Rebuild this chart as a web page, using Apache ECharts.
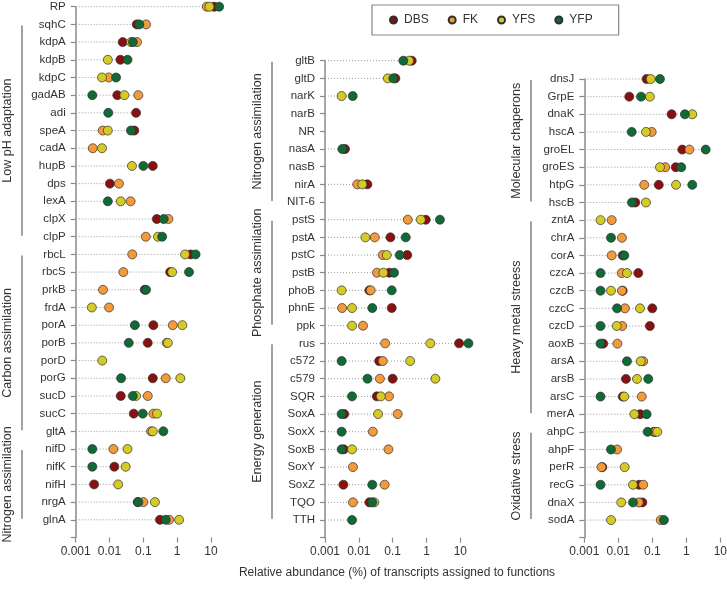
<!DOCTYPE html>
<html>
<head>
<meta charset="utf-8">
<script src="https://cdn.jsdelivr.net/npm/echarts@6/dist/echarts.min.js"></script>
<style>
html,body{margin:0;padding:0;background:#fff;}
#chart{width:727px;height:590px;}
</style>
</head>
<body>
<div id="chart"></div>
<script>
// ---------- DATA ----------
const tickLabels = ['0.001', '0.01', '0.1', '1', '10'];
const sampleNames = ['DBS', 'FK', 'YFS', 'YFP'];

const catsLeft = ['RP','sqhC','kdpA','kdpB','kdpC','gadAB','adi','speA','cadA','hupB','dps','lexA','clpX','clpP','rbcL','rbcS','prkB','frdA','porA','porB','porD','porG','sucD','sucC','gltA','nifD','nifK','nifH','nrgA','glnA'];
const dbsLeft = [12.4,0.064,0.0245,0.021,null,0.017,0.061,0.054,null,0.19,0.0103,null,0.25,null,2.5,0.62,0.11,null,0.198,0.135,null,0.19,0.0215,0.052,null,null,0.0139,0.0035,0.068,0.31];
const fkLeft  = [7.5,0.12,0.065,null,0.0095,0.071,null,0.0063,0.0032,null,0.019,0.042,0.55,0.118,0.047,0.0256,0.0064,0.0097,0.74,0.49,null,0.46,0.135,0.198,0.169,0.013,null,null,0.10,0.58];
const yfsLeft = [9.0,null,0.043,0.0089,0.006,0.0275,null,0.0089,0.006,0.046,null,0.0215,null,0.27,1.71,0.71,null,0.003,1.42,0.53,0.0061,1.24,0.061,0.254,0.19,0.034,0.030,0.018,0.22,1.14];
const yfpLeft = [17.4,0.076,0.049,0.034,0.0156,0.0031,0.0092,0.043,null,0.1,null,0.0089,0.40,0.36,3.5,2.24,0.12,null,0.056,0.037,null,0.022,0.049,0.096,0.39,0.0031,0.0031,null,0.071,0.46];

const catsMid = ['gltB','gltD','narK','narB','NR','nasA','nasB','nirA','NIT-6','pstS','pstA','pstC','pstB','phoB','phnE','ppk','rus','c572','c579','SQR','SoxA','SoxX','SoxB','SoxY','SoxZ','TQO','TTH'];
const dbsMid = [0.367,0.12,null,null,null,0.0039,null,0.0179,null,0.95,0.086,0.27,0.08,0.0205,0.094,null,9.2,0.04,0.1,0.034,0.0037,null,0.0036,null,0.0035,0.0205,null];
const fkMid  = [null,null,null,null,null,null,null,0.009,null,0.28,0.0296,0.051,0.0345,0.0225,0.0032,0.0133,0.06,0.051,0.042,0.078,0.141,0.026,0.075,0.0067,0.058,0.0067,null];
const yfsMid = [0.305,0.072,0.0031,null,null,null,null,0.0127,null,0.68,0.0156,0.067,0.053,0.0031,0.0063,0.0063,1.3,0.33,1.83,0.0446,0.037,null,0.0063,null,null,0.0288,null];
const yfpMid = [0.207,0.105,0.0066,null,null,0.00326,null,null,null,2.5,0.244,0.162,0.11,0.094,0.025,null,17.4,0.0031,0.018,0.0063,0.0031,0.0031,0.0031,null,0.025,0.025,0.0063];

const catsRight = ['dnsJ','GrpE','dnaK','hscA','groEL','groES','htpG','hscB','zntA','chrA','corA','czcA','czcB','czcC','czcD','aoxB','arsA','arsB','arsC','merA','ahpC','ahpF','perR','recG','dnaX','sodA'];
const dbsRight = [0.068,0.021,0.37,null,0.76,0.49,0.155,0.0316,null,null,0.0135,0.0387,0.0135,0.1,0.085,0.0036,null,0.0168,0.0135,0.044,0.11,null,0.0034,0.041,0.051,null];
const fkRight  = [null,null,null,0.096,1.23,0.24,0.058,null,0.0064,0.0128,0.0064,0.0126,0.0128,0.0157,0.013,0.0094,0.054,null,0.049,null,0.12,0.0092,0.0032,0.054,0.04,0.177];
const yfsRight = [0.0897,0.085,1.5,0.065,null,0.168,0.5,0.065,0.003,null,null,0.018,0.0061,0.0435,0.009,null,0.0456,0.0355,0.015,0.0296,0.14,null,0.0154,0.027,0.0122,0.0061];
const yfpRight = [0.168,0.0466,0.91,0.0248,3.72,0.71,1.5,0.0253,null,0.0061,0.015,0.003,0.003,0.0092,0.003,0.003,0.018,0.076,0.003,0.068,0.073,0.0061,null,0.003,0.027,0.22];

const groupsLeft  = [['Low pH adaptation','sqhC','clpP'],['Carbon assimilation','rbcL','gltA'],['Nitrogen assimilation','nifD','glnA']];
const groupsMid   = [['Nitrogen assimilation','gltB','NIT-6'],['Phosphate assimilation','pstS','ppk'],['Energy generation','rus','TTH']];
const groupsRight = [['Molecular chaperons','dnsJ','hscB'],['Heavy metal streess','zntA','merA'],['Oxidative stress','ahpC','sodA']];

const axisTitle = 'Relative abundance (%) of transcripts assigned to functions';

// ---------- STYLE ----------
const colors = {DBS:'#8a1010', FK:'#f29a3c', YFS:'#d6cb24', YFP:'#0f6a35'};
const FONT = '"Liberation Sans", Arial, sans-serif';
const axisGray = '#8a8a8a';
const textColor = '#333';

const panels = [
  {cats: catsLeft,  series: [dbsLeft, fkLeft, yfsLeft, yfpLeft],     groups: groupsLeft,  lineX: 22,  textX: 8},
  {cats: catsMid,   series: [dbsMid, fkMid, yfsMid, yfpMid],         groups: groupsMid,   lineX: 272, textX: 257.5},
  {cats: catsRight, series: [dbsRight, fkRight, yfsRight, yfpRight], groups: groupsRight, lineX: 531, textX: 517}
];

const grids = [
  {left: 75.7, top: 6.7, width: 135.3, height: 530.8},
  {left: 325, top: 60.7, width: 135.3, height: 477},
  {left: 584.3, top: 79, width: 136, height: 458.7}
];

const xAxes = [], yAxes = [], series = [];
panels.forEach((p, g) => {
  xAxes.push({
    type: 'log', logBase: 10, min: 0.001, max: 10, gridIndex: g, splitNumber: 4,
    axisLine: {onZero: false, lineStyle: {color: axisGray, width: 1.5}},
    axisTick: {show: true, length: 5, lineStyle: {color: axisGray, width: 1.2}},
    splitLine: {show: false},
    axisLabel: {
      margin: 8, color: textColor, fontSize: 12, fontFamily: FONT,
      formatter: v => tickLabels[Math.round(Math.log10(v)) + 3]
    }
  });
  yAxes.push({
    type: 'category', gridIndex: g, inverse: true, boundaryGap: false,
    data: p.cats.concat(['']),
    axisLine: {lineStyle: {color: axisGray, width: 1.5}},
    axisTick: {show: true, length: 5, interval: 0, lineStyle: {color: axisGray, width: 1.2}},
    axisLabel: {interval: 0, margin: 10, color: textColor, fontSize: 11.5, fontFamily: FONT},
    splitLine: {show: false}
  });
  // dotted guide line from axis start to the largest value of the row
  const lineData = p.cats.map((c, i) => {
    const vals = p.series.map(s => s[i]).filter(v => v != null);
    return vals.length ? [Math.max.apply(null, vals), i] : null;
  }).filter(d => d);
  series.push({
    type: 'custom', xAxisIndex: g, yAxisIndex: g, clip: false, silent: true, z: 1,
    data: lineData,
    encode: {x: 0, y: 1},
    renderItem: (params, api) => {
      const y = api.value(1);
      const p0 = api.coord([0.001, y]);
      const p1 = api.coord([api.value(0), y]);
      return {type: 'line', shape: {x1: p0[0], y1: p0[1], x2: p1[0], y2: p1[1]},
              style: {stroke: '#9a9a9a', lineWidth: 1, lineDash: [1, 2]}};
    }
  });
  sampleNames.forEach((name, k) => {
    series.push({
      name, type: 'scatter', xAxisIndex: g, yAxisIndex: g, clip: false, z: 2 + k,
      symbol: 'circle', symbolSize: 9,
      itemStyle: {color: colors[name], borderColor: '#2e2e2e', borderWidth: 0.7, opacity: 1},
      emphasis: {disabled: true},
      data: p.series[k].map((v, i) => [v, i]).filter(d => d[0] != null)
    });
  });
});

const chart = echarts.init(document.getElementById('chart'), null, {renderer: 'canvas'});
chart.setOption({
  animation: false,
  backgroundColor: '#fff',
  textStyle: {fontFamily: FONT},
  legend: {
    data: sampleNames, left: 372, top: 5, orient: 'horizontal',
    padding: [9, 26, 9, 17], itemGap: 19, itemWidth: 11, itemHeight: 7, icon: 'circle',
    borderColor: '#888', borderWidth: 1.2,
    textStyle: {color: textColor, fontSize: 12, fontFamily: FONT},
    selectedMode: false
  },
  grid: grids.map(g => Object.assign({outerBoundsMode: 'none', containLabel: false}, g)),
  xAxis: xAxes,
  yAxis: yAxes,
  series
});

// group brackets and labels, positioned from the axes
const graphics = [];
panels.forEach((p, g) => {
  p.groups.forEach(([label, first, last]) => {
    const y1 = chart.convertToPixel({yAxisIndex: g}, first);
    const y2 = chart.convertToPixel({yAxisIndex: g}, last);
    graphics.push({type: 'line', shape: {x1: p.lineX, y1: y1 + 1, x2: p.lineX, y2: y2 - 1},
                   style: {stroke: '#8a8a8a', lineWidth: 1.6}, silent: true});
    graphics.push({type: 'text', x: p.textX, y: (y1 + y2) / 2, rotation: Math.PI / 2, silent: true,
                   style: {text: label, align: 'center', verticalAlign: 'middle',
                           fontSize: 12.5, fontFamily: FONT, fill: textColor}});
  });
});
graphics.push({type: 'text', x: 397, y: 573, silent: true,
               style: {text: axisTitle, align: 'center', verticalAlign: 'middle',
                       fontSize: 12, fontFamily: FONT, fill: textColor}});
chart.setOption({graphic: graphics});
</script>
</body>
</html>
